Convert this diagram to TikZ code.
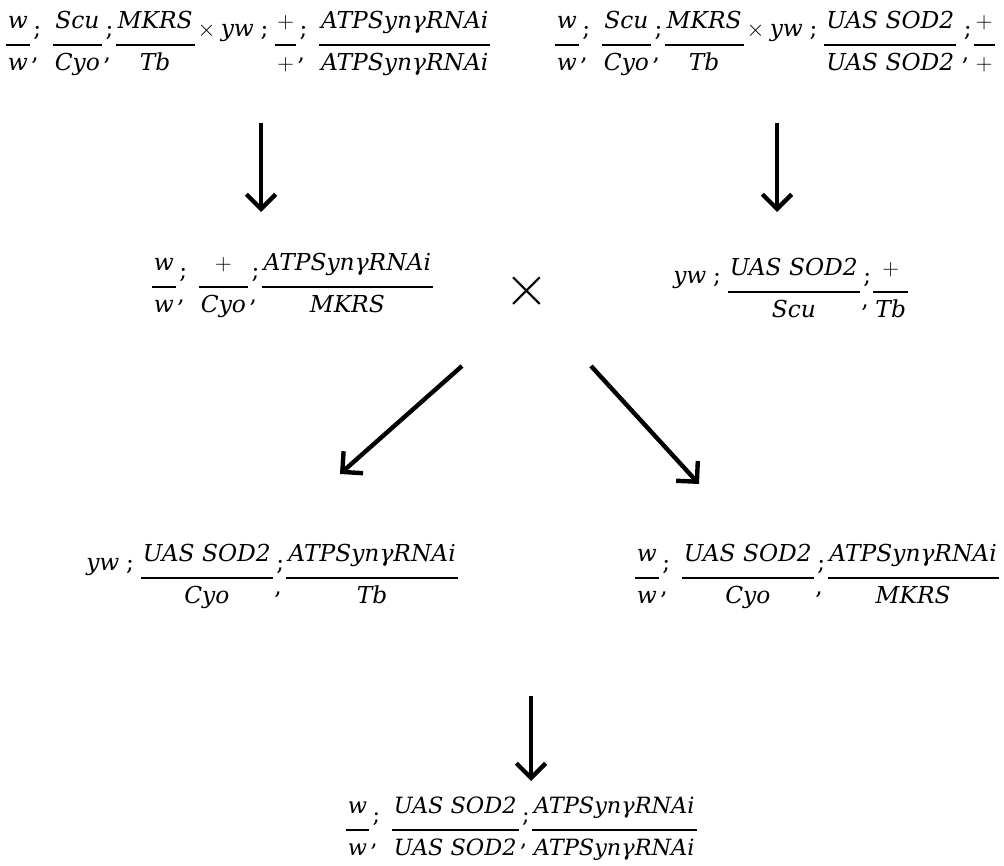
\documentclass[tikz,border=0pt]{standalone}
\usepackage{amsmath}
\usepackage{graphicx}
\usepackage{fontspec}
\setmainfont{DejaVu Serif}
\usetikzlibrary{arrows.meta}
% genotype fraction: numerator over denominator, bar a little below the text line
\newcommand\fr[2]{\raisebox{-10.4pt}{$\displaystyle{\rule[-7.8pt]{0pt}{7.8pt}\hspace{1.5pt}#1\hspace{1.5pt}\above1.4pt\rule{0pt}{14.5pt}\hspace{1.5pt}#2\hspace{1.5pt}}$}}
\newcommand\gv[1]{\textit{#1}}
% separators after a fraction: low tick plus semicolon, tight or followed by a space
\newcommand\sm{\rlap{\raisebox{-18pt}{,}}\hspace{1.5pt};\hspace{0.5pt}}
\newcommand\smsp{\sm\hspace{7pt}}
\newcommand\ywsep{\gv{yw}\hspace{5pt};\hspace{4pt}}
\tikzset{
  geno/.style={anchor=base west, inner sep=0pt, font=\fontsize{17.5}{21}\selectfont},
  small geno/.style={geno, font=\fontsize{16.8}{20}\selectfont},
  cross/.style={inner sep=0pt, font=\fontsize{17.5}{21}\selectfont},
  arr/.style={line width=3.3pt, -{Straight Barb[length=11pt,width=22pt]}}
}
\begin{document}
\begin{tikzpicture}[x=0.75pt,y=-0.75pt]
\useasboundingbox[fill=white] (0,0) rectangle (1004,866);

% parental crosses
\node[geno] (p1) at (4,37) {\fr{\gv{w}}{\gv{w}}\smsp\fr{\gv{Scu}}{\gv{Cyo}}\sm\fr{\gv{MKRS}}{\gv{Tb}}\hspace{1pt}$\times$\hspace{4pt}\ywsep\fr{+}{+}\smsp\fr{\gv{ATPSynγRNAi}}{\gv{ATPSynγRNAi}}};
\node[geno] (p2) at (553,37) {\fr{\gv{w}}{\gv{w}}\smsp\fr{\gv{Scu}}{\gv{Cyo}}\sm\fr{\gv{MKRS}}{\gv{Tb}}\hspace{1pt}$\times$\hspace{4pt}\ywsep\fr{\gv{UAS SOD2}}{\gv{UAS SOD2}}\hspace{3pt}\sm\fr{+}{+}};

% F1 selected progeny
\node[geno] (f1a) at (150,279) {\fr{\gv{w}}{\gv{w}}\smsp\fr{+}{\gv{Cyo}}\sm\fr{\gv{ATPSynγRNAi}}{\gv{MKRS}}};
\node[cross] (x) at (527,291) {\scalebox{2.5}{$\times$}};
\node[geno] (f1b) at (673,284) {\ywsep\fr{\gv{UAS SOD2}}{\gv{Scu}}\sm\fr{+}{\gv{Tb}}};

% F2 progeny
\node[geno] (f2a) at (86,570) {\ywsep\fr{\gv{UAS SOD2}}{\gv{Cyo}}\sm\fr{\gv{ATPSynγRNAi}}{\gv{Tb}}};
\node[geno] (f2b) at (633,570) {\fr{\gv{w}}{\gv{w}}\smsp\fr{\gv{UAS SOD2}}{\gv{Cyo}}\sm\fr{\gv{ATPSynγRNAi}}{\gv{MKRS}}};

% final stock
\node[small geno] (f3) at (344,822) {\fr{\gv{w}}{\gv{w}}\smsp\fr{\gv{UAS SOD2}}{\gv{UAS SOD2}}\sm\fr{\gv{ATPSynγRNAi}}{\gv{ATPSynγRNAi}}};

% arrow ends
\coordinate (a1s) at (261,123); \coordinate (a1e) at (261,212);
\coordinate (a2s) at (777,123); \coordinate (a2e) at (777,212);
\coordinate (d1s) at (462,366); \coordinate (d1e) at (340,474);
\coordinate (d2s) at (591,366); \coordinate (d2e) at (699,484);
\coordinate (a3s) at (531,696); \coordinate (a3e) at (531,781);

\draw[arr] (a1s) -- (a1e);
\draw[arr] (a2s) -- (a2e);
\draw[arr] (d1s) -- (d1e);
\draw[arr] (d2s) -- (d2e);
\draw[arr] (a3s) -- (a3e);
\end{tikzpicture}
\end{document}
